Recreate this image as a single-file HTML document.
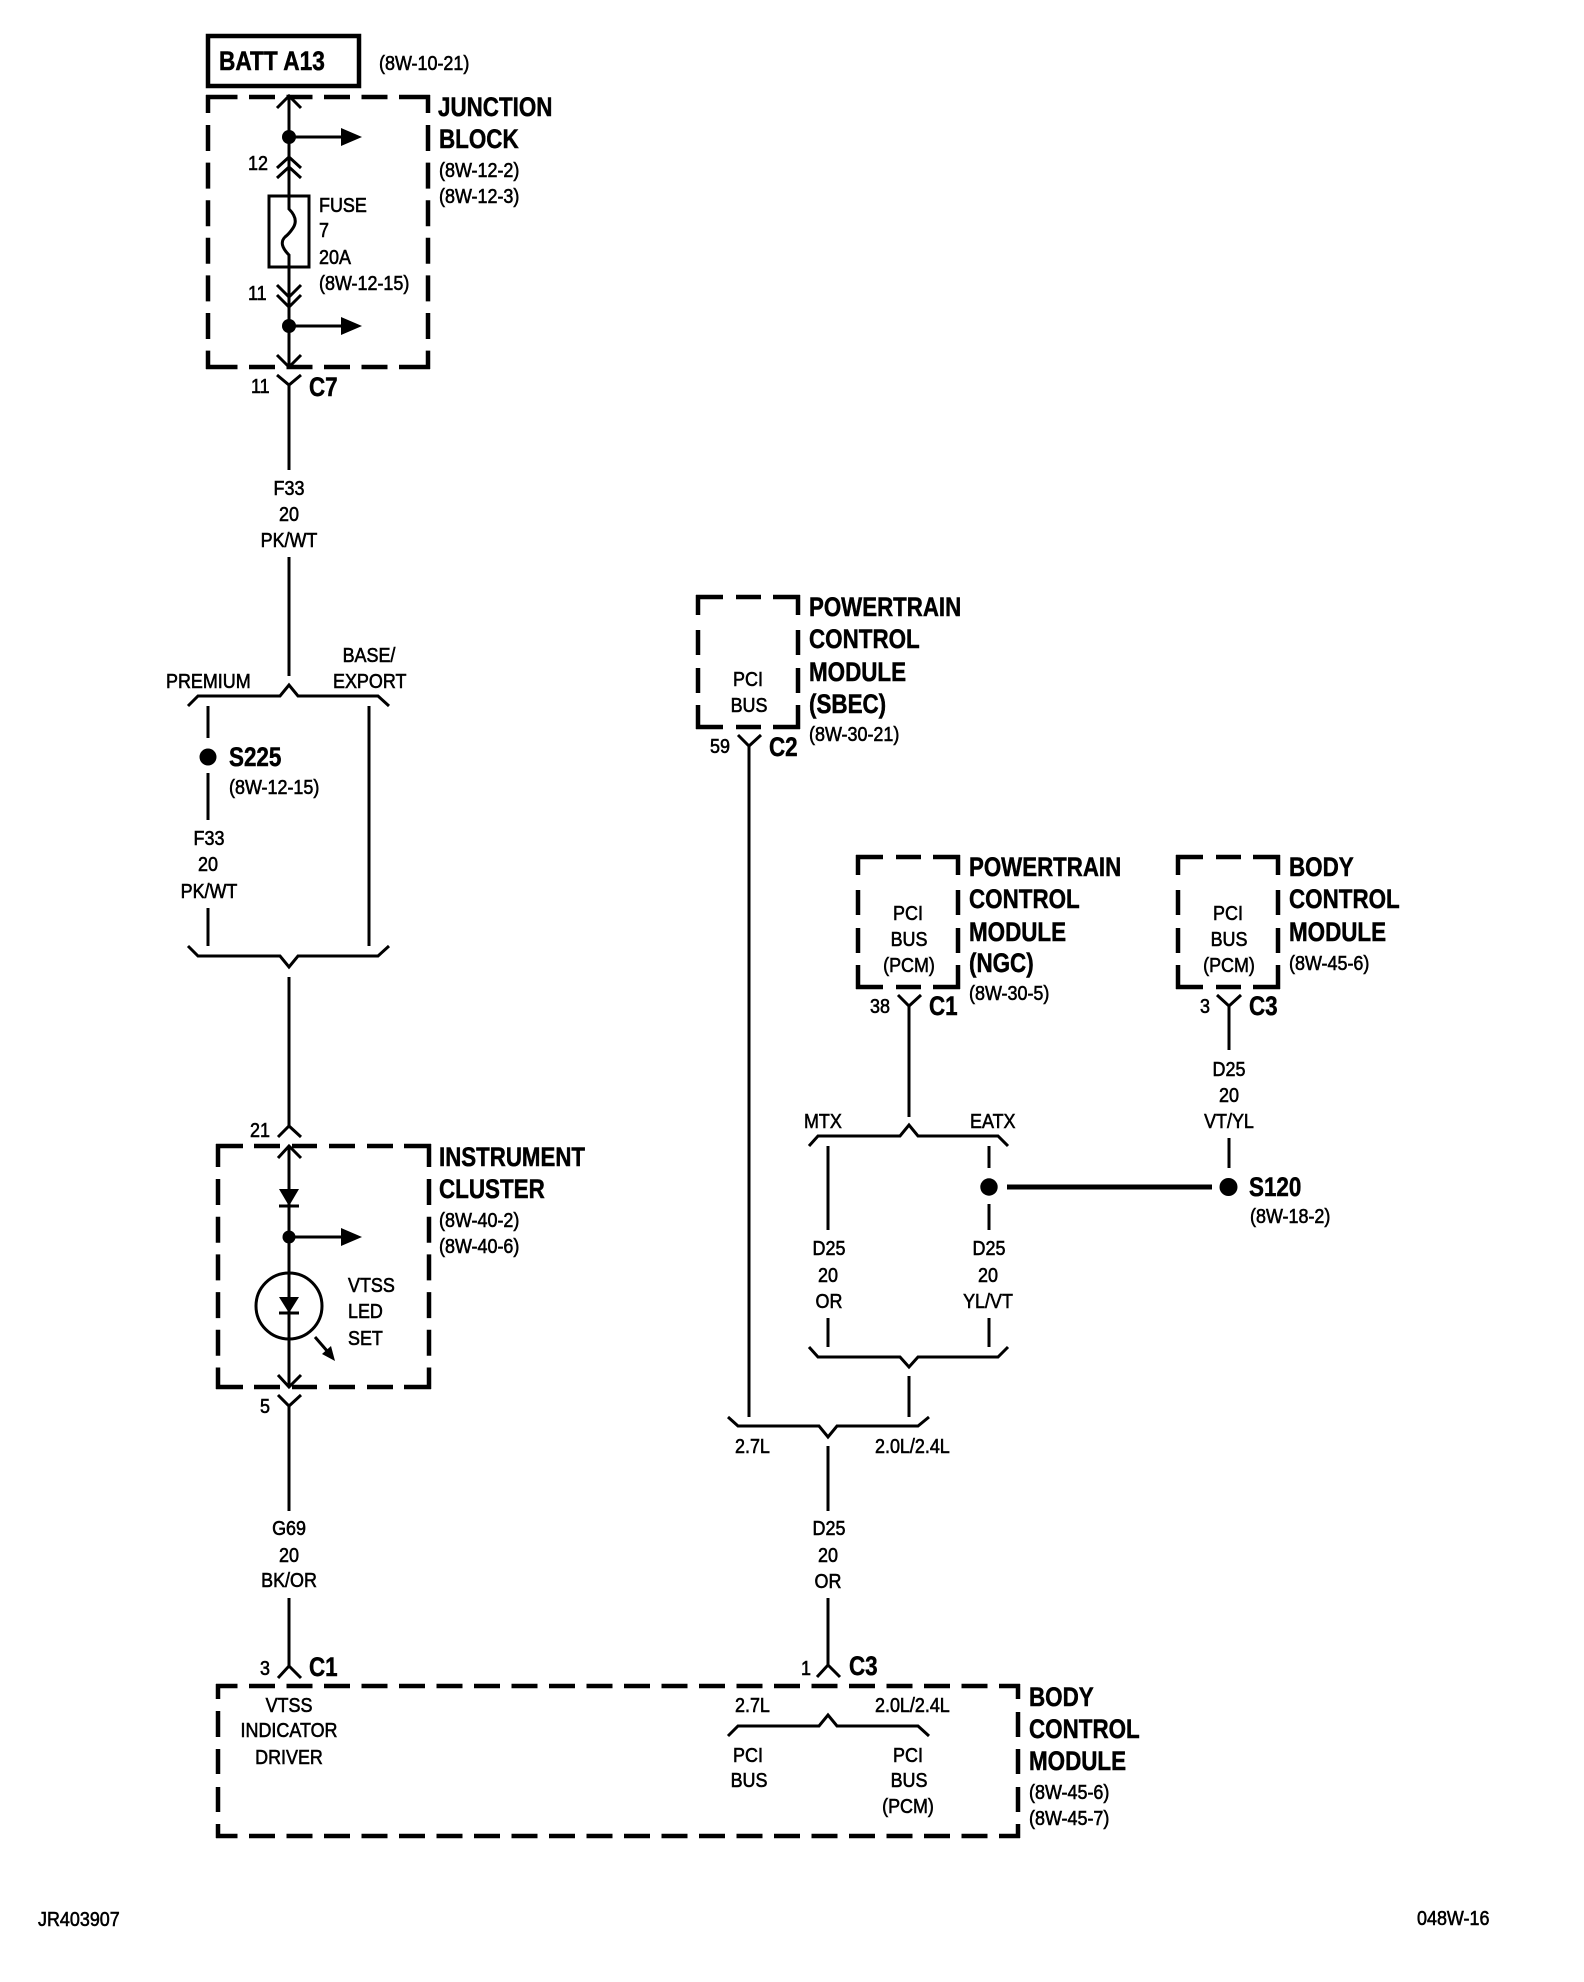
<!DOCTYPE html>
<html><head><meta charset="utf-8"><style>
html,body{margin:0;padding:0;background:#fff}
svg{display:block}
text{font-family:"Liberation Sans",sans-serif;fill:#000}
.r{font-size:20.5px;stroke:#000;stroke-width:.6px}
.b{font-size:27px;font-weight:bold;stroke:#000;stroke-width:.5px}
.m{text-anchor:middle}
.w{fill:none;stroke:#000;stroke-width:3}
.c{fill:none;stroke:#000;stroke-width:3}
.d{fill:none;stroke:#000;stroke-width:4.5}
</style></head><body>
<svg xmlns="http://www.w3.org/2000/svg" width="1584" height="1982" viewBox="0 0 1584 1982">
<rect width="1584" height="1982" fill="#fff"/>
<defs>
<g id="sb">
<line class="d" x1="696" y1="597" x2="800" y2="597" stroke-dasharray="27 13 25 12 30"/>
<line class="d" x1="696" y1="727" x2="800" y2="727" stroke-dasharray="27 13 25 12 30"/>
<line class="d" x1="698" y1="595" x2="698" y2="729" stroke-dasharray="20 15 25 13 25 12 30"/>
<line class="d" x1="798" y1="595" x2="798" y2="729" stroke-dasharray="20 15 25 13 25 12 30"/>
</g>
</defs>

<!-- BATT -->
<rect x="208" y="36" width="151" height="50" fill="none" stroke="#000" stroke-width="4.5"/>
<text class="b" transform="translate(219,70) scale(.84,1)">BATT A13</text>
<text class="r" transform="translate(379,70) scale(.875,1)">(8W-10-21)</text>

<!-- Junction block -->
<line class="d" x1="206" y1="97" x2="430" y2="97" stroke-dasharray="31.5 11.5 26 11.5 26 11.5 26 11.5 26 11.5 40"/>
<line class="d" x1="206" y1="367" x2="430" y2="367" stroke-dasharray="31.5 11.5 26 11.5 26 11.5 26 11.5 26 11.5 40"/>
<line class="d" x1="208" y1="95" x2="208" y2="369" stroke-dasharray="18 12 26 11.6 26 11.6 26 11.6 26 11.6 26 11.6 26 11.6 30"/>
<line class="d" x1="428" y1="95" x2="428" y2="369" stroke-dasharray="18 12 26 11.6 26 11.6 26 11.6 26 11.6 26 11.6 26 11.6 30"/>
<text class="b" transform="translate(438,116) scale(.83,1)">JUNCTION</text>
<text class="b" transform="translate(439,148) scale(.83,1)">BLOCK</text>
<text class="r" transform="translate(439,177) scale(.875,1)">(8W-12-2)</text>
<text class="r" transform="translate(439,203) scale(.875,1)">(8W-12-3)</text>

<path class="w" d="M289 96V209Q299 219 293 228Q289 234 285 237Q278 244 289 255V367"/>
<path class="c" d="M277 108L289 96L301 108M277 168L289 157L301 168M277 178L289 167L301 178"/>
<path class="c" d="M277 285L289 297L301 285M277 295L289 307L301 295M277 355L289 367L301 355"/>
<rect x="269" y="196" width="40" height="71" fill="none" stroke="#000" stroke-width="3"/>
<circle cx="289" cy="137" r="7"/><line class="w" x1="289" y1="137" x2="345" y2="137"/><path d="M341 128L362 137L341 146Z"/>
<circle cx="289" cy="326" r="7"/><line class="w" x1="289" y1="326" x2="345" y2="326"/><path d="M341 317L362 326L341 335Z"/>
<text class="r" transform="translate(248,170) scale(.875,1)">12</text>
<text class="r" transform="translate(248,300) scale(.875,1)">11</text>
<text class="r" transform="translate(319,212) scale(.875,1)">FUSE</text>
<text class="r" transform="translate(319,237) scale(.875,1)">7</text>
<text class="r" transform="translate(319,264) scale(.875,1)">20A</text>
<text class="r" transform="translate(319,290) scale(.875,1)">(8W-12-15)</text>

<!-- C7 -->
<path class="c" d="M277 375L289 385L301 375"/>
<line class="w" x1="289" y1="385" x2="289" y2="470"/>
<text class="r" transform="translate(251,393) scale(.875,1)">11</text>
<text class="b" transform="translate(309,396) scale(.83,1)">C7</text>
<text class="r m" transform="translate(289,495) scale(.875,1)">F33</text>
<text class="r m" transform="translate(289,521) scale(.875,1)">20</text>
<text class="r m" transform="translate(289,547) scale(.875,1)">PK/WT</text>
<line class="w" x1="289" y1="557" x2="289" y2="676"/>

<!-- top split -->
<path class="c" d="M188 706L198 696H280L289 685L298 696H378L389 706"/>
<text class="r" transform="translate(166,688) scale(.875,1)">PREMIUM</text>
<text class="r m" transform="translate(369,662) scale(.875,1)">BASE/</text>
<text class="r" transform="translate(333,688) scale(.875,1)">EXPORT</text>
<line class="w" x1="208" y1="706" x2="208" y2="738"/>
<circle cx="208" cy="757" r="8.5"/>
<line class="w" x1="208" y1="773" x2="208" y2="820"/>
<text class="b" transform="translate(229,766) scale(.83,1)">S225</text>
<text class="r" transform="translate(229,794) scale(.875,1)">(8W-12-15)</text>
<text class="r m" transform="translate(209,845) scale(.875,1)">F33</text>
<text class="r m" transform="translate(208,871) scale(.875,1)">20</text>
<text class="r m" transform="translate(209,898) scale(.875,1)">PK/WT</text>
<line class="w" x1="208" y1="908" x2="208" y2="946"/>
<line class="w" x1="369" y1="706" x2="369" y2="946"/>
<path class="c" d="M188 946L198 956H280L289 967L298 956H378L389 946"/>
<line class="w" x1="289" y1="977" x2="289" y2="1126"/>

<!-- Instrument cluster -->
<path class="c" d="M278 1137L289 1126L301 1137M278 1158L289 1146L301 1158"/>
<text class="r" transform="translate(250,1137) scale(.875,1)">21</text>
<line class="d" x1="216" y1="1146" x2="431" y2="1146" stroke-dasharray="27 11 26 12 25 12 26 12 26 11 30"/>
<line class="d" x1="216" y1="1387" x2="431" y2="1387" stroke-dasharray="27 11 26 12 25 12 26 12 26 11 30"/>
<line class="d" x1="218" y1="1144" x2="218" y2="1389" stroke-dasharray="23 12 26 11.7 26 11.7 26 11.7 26 11.7 26 11.7 30"/>
<line class="d" x1="429" y1="1144" x2="429" y2="1389" stroke-dasharray="23 12 26 11.7 26 11.7 26 11.7 26 11.7 26 11.7 30"/>
<text class="b" transform="translate(439,1166) scale(.825,1)">INSTRUMENT</text>
<text class="b" transform="translate(439,1198) scale(.83,1)">CLUSTER</text>
<text class="r" transform="translate(439,1227) scale(.875,1)">(8W-40-2)</text>
<text class="r" transform="translate(439,1253) scale(.875,1)">(8W-40-6)</text>
<line class="w" x1="289" y1="1146" x2="289" y2="1387"/>
<path d="M279 1189H299L289 1206Z"/><line class="c" x1="279" y1="1206" x2="299" y2="1206"/>
<circle cx="289" cy="1237" r="6.5"/><line class="w" x1="289" y1="1237" x2="345" y2="1237"/><path d="M341 1228L362 1237L341 1246Z"/>
<circle cx="289" cy="1306" r="33" fill="none" stroke="#000" stroke-width="3"/>
<path d="M279 1297H299L289 1313Z"/><line class="c" x1="279" y1="1313" x2="299" y2="1313"/>
<line class="c" x1="315" y1="1337" x2="328" y2="1352"/><path d="M322 1354L331 1346L335 1361Z"/>
<path class="c" d="M278 1375L289 1387L301 1375M278 1395L289 1406L301 1395"/>
<text class="r" transform="translate(348,1292) scale(.875,1)">VTSS</text>
<text class="r" transform="translate(348,1318) scale(.875,1)">LED</text>
<text class="r" transform="translate(348,1345) scale(.875,1)">SET</text>
<text class="r" transform="translate(260,1413) scale(.875,1)">5</text>
<line class="w" x1="289" y1="1406" x2="289" y2="1511"/>
<text class="r m" transform="translate(289,1535) scale(.875,1)">G69</text>
<text class="r m" transform="translate(289,1562) scale(.875,1)">20</text>
<text class="r m" transform="translate(289,1587) scale(.875,1)">BK/OR</text>
<line class="w" x1="289" y1="1598" x2="289" y2="1666"/>
<path class="c" d="M278 1678L289 1666L301 1678"/>
<text class="r" transform="translate(260,1675) scale(.875,1)">3</text>
<text class="b" transform="translate(309,1676) scale(.83,1)">C1</text>

<!-- SBEC -->
<use href="#sb"/>
<text class="r m" transform="translate(748,686) scale(.875,1)">PCI</text>
<text class="r m" transform="translate(749,712) scale(.875,1)">BUS</text>
<text class="b" transform="translate(809,616) scale(.825,1)">POWERTRAIN</text>
<text class="b" transform="translate(809,648) scale(.83,1)">CONTROL</text>
<text class="b" transform="translate(809,681) scale(.83,1)">MODULE</text>
<text class="b" transform="translate(809,713) scale(.83,1)">(SBEC)</text>
<text class="r" transform="translate(809,741) scale(.875,1)">(8W-30-21)</text>
<text class="r" transform="translate(710,753) scale(.875,1)">59</text>
<text class="b" transform="translate(769,756) scale(.83,1)">C2</text>
<path class="c" d="M738 735L749 746L761 735"/>
<line class="w" x1="749" y1="746" x2="749" y2="1417"/>

<!-- NGC -->
<use href="#sb" transform="translate(160,260)"/>
<text class="r m" transform="translate(908,920) scale(.875,1)">PCI</text>
<text class="r m" transform="translate(909,946) scale(.875,1)">BUS</text>
<text class="r m" transform="translate(909,972) scale(.875,1)">(PCM)</text>
<text class="b" transform="translate(969,876) scale(.825,1)">POWERTRAIN</text>
<text class="b" transform="translate(969,908) scale(.83,1)">CONTROL</text>
<text class="b" transform="translate(969,941) scale(.83,1)">MODULE</text>
<text class="b" transform="translate(969,972) scale(.83,1)">(NGC)</text>
<text class="r" transform="translate(969,1000) scale(.875,1)">(8W-30-5)</text>
<text class="r" transform="translate(870,1013) scale(.875,1)">38</text>
<text class="b" transform="translate(929,1015) scale(.83,1)">C1</text>
<path class="c" d="M898 995L909 1006L921 995"/>
<line class="w" x1="909" y1="1006" x2="909" y2="1117"/>

<!-- BCM top -->
<use href="#sb" transform="translate(480,260)"/>
<text class="r m" transform="translate(1228,920) scale(.875,1)">PCI</text>
<text class="r m" transform="translate(1229,946) scale(.875,1)">BUS</text>
<text class="r m" transform="translate(1229,972) scale(.875,1)">(PCM)</text>
<text class="b" transform="translate(1289,876) scale(.83,1)">BODY</text>
<text class="b" transform="translate(1289,908) scale(.83,1)">CONTROL</text>
<text class="b" transform="translate(1289,941) scale(.83,1)">MODULE</text>
<text class="r" transform="translate(1289,970) scale(.875,1)">(8W-45-6)</text>
<text class="r" transform="translate(1200,1013) scale(.875,1)">3</text>
<text class="b" transform="translate(1249,1015) scale(.83,1)">C3</text>
<path class="c" d="M1217 995L1229 1006L1241 995"/>
<line class="w" x1="1229" y1="1006" x2="1229" y2="1050"/>
<text class="r m" transform="translate(1229,1076) scale(.875,1)">D25</text>
<text class="r m" transform="translate(1229,1102) scale(.875,1)">20</text>
<text class="r m" transform="translate(1229,1128) scale(.875,1)">VT/YL</text>
<line class="w" x1="1229" y1="1138" x2="1229" y2="1168"/>
<circle cx="1228.5" cy="1187" r="9"/>
<line x1="1007" y1="1187" x2="1212" y2="1187" stroke="#000" stroke-width="5"/>
<circle cx="989" cy="1187" r="8.7"/>
<text class="b" transform="translate(1249,1196) scale(.83,1)">S120</text>
<text class="r" transform="translate(1250,1223) scale(.875,1)">(8W-18-2)</text>

<!-- MTX / EATX -->
<path class="c" d="M809 1146L818 1136H900L909 1125L918 1136H998L1008 1146"/>
<text class="r" transform="translate(804,1128) scale(.875,1)">MTX</text>
<text class="r" transform="translate(970,1128) scale(.875,1)">EATX</text>
<line class="w" x1="828" y1="1146" x2="828" y2="1230"/>
<line class="w" x1="989" y1="1146" x2="989" y2="1168"/>
<line class="w" x1="989" y1="1204" x2="989" y2="1230"/>
<text class="r m" transform="translate(829,1255) scale(.875,1)">D25</text>
<text class="r m" transform="translate(828,1282) scale(.875,1)">20</text>
<text class="r m" transform="translate(829,1308) scale(.875,1)">OR</text>
<text class="r m" transform="translate(989,1255) scale(.875,1)">D25</text>
<text class="r m" transform="translate(988,1282) scale(.875,1)">20</text>
<text class="r m" transform="translate(988,1308) scale(.875,1)">YL/VT</text>
<line class="w" x1="828" y1="1318" x2="828" y2="1347"/>
<line class="w" x1="989" y1="1318" x2="989" y2="1347"/>
<path class="c" d="M809 1347L818 1357H900L909 1367L918 1357H998L1008 1347"/>
<line class="w" x1="909" y1="1376" x2="909" y2="1417"/>

<!-- 2.7L split -->
<path class="c" d="M728 1417L738 1426H819L828 1437L837 1426H918L929 1417"/>
<text class="r" transform="translate(735,1453) scale(.875,1)">2.7L</text>
<text class="r" transform="translate(875,1453) scale(.875,1)">2.0L/2.4L</text>
<line class="w" x1="828" y1="1446" x2="828" y2="1511"/>
<text class="r m" transform="translate(829,1535) scale(.875,1)">D25</text>
<text class="r m" transform="translate(828,1562) scale(.875,1)">20</text>
<text class="r m" transform="translate(828,1588) scale(.875,1)">OR</text>
<line class="w" x1="828" y1="1598" x2="828" y2="1665"/>
<path class="c" d="M817 1677L828 1665L840 1677"/>
<text class="r" transform="translate(801,1675) scale(.875,1)">1</text>
<text class="b" transform="translate(849,1675) scale(.83,1)">C3</text>

<!-- BCM bottom -->
<line class="d" x1="216" y1="1686" x2="1020" y2="1686" stroke-dasharray="26 11.5" stroke-dashoffset="4.5"/>
<line class="d" x1="216" y1="1836" x2="1020" y2="1836" stroke-dasharray="26 11.5" stroke-dashoffset="4.5"/>
<line class="d" x1="218" y1="1684" x2="218" y2="1838" stroke-dasharray="15 12 26 12 25 13 25 12 30"/>
<line class="d" x1="1018" y1="1684" x2="1018" y2="1838" stroke-dasharray="15 13 25 12 25 13 25 12 30"/>
<text class="r m" transform="translate(289,1712) scale(.875,1)">VTSS</text>
<text class="r m" transform="translate(289,1737) scale(.875,1)">INDICATOR</text>
<text class="r m" transform="translate(289,1764) scale(.875,1)">DRIVER</text>
<text class="r" transform="translate(735,1712) scale(.875,1)">2.7L</text>
<text class="r" transform="translate(875,1712) scale(.875,1)">2.0L/2.4L</text>
<path class="c" d="M728 1736L738 1726H819L828 1715L837 1726H918L929 1736"/>
<text class="r m" transform="translate(748,1762) scale(.875,1)">PCI</text>
<text class="r m" transform="translate(749,1787) scale(.875,1)">BUS</text>
<text class="r m" transform="translate(908,1762) scale(.875,1)">PCI</text>
<text class="r m" transform="translate(909,1787) scale(.875,1)">BUS</text>
<text class="r m" transform="translate(908,1813) scale(.875,1)">(PCM)</text>
<text class="b" transform="translate(1029,1706) scale(.83,1)">BODY</text>
<text class="b" transform="translate(1029,1738) scale(.83,1)">CONTROL</text>
<text class="b" transform="translate(1029,1770) scale(.83,1)">MODULE</text>
<text class="r" transform="translate(1029,1799) scale(.875,1)">(8W-45-6)</text>
<text class="r" transform="translate(1029,1825) scale(.875,1)">(8W-45-7)</text>

<text class="r" transform="translate(38,1926) scale(.875,1)">JR403907</text>
<text class="r" transform="translate(1417,1925) scale(.875,1)">048W-16</text>
</svg>
</body></html>
